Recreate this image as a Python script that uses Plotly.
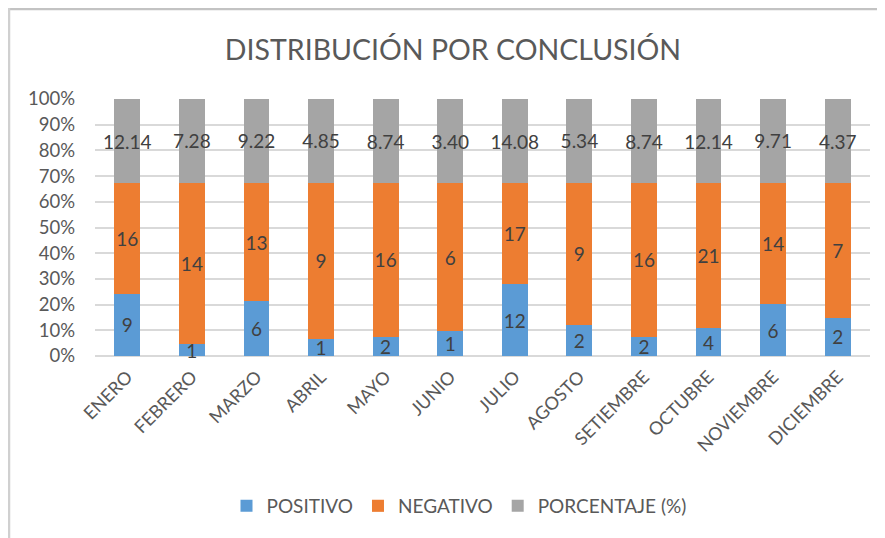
import plotly.graph_objects as go

meses = ["ENERO", "FEBRERO", "MARZO", "ABRIL", "MAYO", "JUNIO", "JULIO",
         "AGOSTO", "SETIEMBRE", "OCTUBRE", "NOVIEMBRE", "DICIEMBRE"]
positivo = [9, 1, 6, 1, 2, 1, 12, 2, 2, 4, 6, 2]
negativo = [16, 14, 13, 9, 16, 6, 17, 9, 16, 21, 14, 7]
porcentaje = [12.14, 7.28, 9.22, 4.85, 8.74, 3.40, 14.08, 5.34, 8.74, 12.14, 9.71, 4.37]

FONT = "Lato, 'Open Sans', sans-serif"
GRIS_TEXTO = "#595959"

# the page body adds an 8px margin, so the figure is drawn 8px smaller
OFF = 8
W, H = 885 - OFF, 538 - OFF
# plot area in page pixels: x 95..870, y 99..356
L, T = 95 - OFF, 99 - OFF
R, B = W - (870 - OFF), H - (356 - OFF)
pw, ph = W - L - R, H - T - B


def px_x(p):
    return (p - OFF - L) / pw


def px_y(p):
    return (H - B - (p - OFF)) / ph


fig = go.Figure()
series = [
    ("POSITIVO", positivo, "#5b9bd5", [str(v) for v in positivo]),
    ("NEGATIVO", negativo, "#ed7d31", [str(v) for v in negativo]),
    ("PORCENTAJE (%)", porcentaje, "#a5a5a5", [f"{v:.2f}" for v in porcentaje]),
]
for name, vals, color, txt in series:
    fig.add_trace(go.Bar(
        x=meses, y=vals, name=name, marker=dict(color=color, line=dict(width=0)),
        text=txt, textposition="inside", insidetextanchor="middle",
        textangle=0, constraintext="none", cliponaxis=False,
        textfont=dict(family=FONT, size=19, color="#404040"),
        hoverinfo="skip",
    ))

fig.update_layout(
    width=W, height=H,
    barmode="stack", barnorm="percent", bargap=0.6,
    margin=dict(l=L, r=R, t=T, b=B),
    paper_bgcolor="white", plot_bgcolor="white",
    font=dict(family=FONT, color=GRIS_TEXTO, size=18),
    title=dict(text="DISTRIBUCIÓN POR CONCLUSIÓN", x=(453 - OFF) / W, xanchor="center",
               y=1 - (50 - OFF) / H, yanchor="middle",
               font=dict(family=FONT, size=28.5, color=GRIS_TEXTO)),
    xaxis=dict(tickangle=-45, showgrid=False, showline=False, ticks="",
               automargin=False, ticklabelstandoff=6,
               tickfont=dict(size=18, color=GRIS_TEXTO)),
    yaxis=dict(range=[0, 100], dtick=10, ticksuffix="%", showline=False,
               gridcolor="#d9d9d9", gridwidth=1.5, zeroline=True,
               zerolinecolor="#d9d9d9", zerolinewidth=1.5, ticks="",
               automargin=False, ticklabelstandoff=19,
               tickfont=dict(size=18.5, color=GRIS_TEXTO)),
    legend=dict(orientation="h", x=px_x(459), xanchor="center", y=px_y(506),
                yanchor="middle", font=dict(size=19, color=GRIS_TEXTO),
                itemwidth=30, traceorder="normal"),
    showlegend=True,
)

# chart frame (top and left edge)
fig.add_shape(type="line", xref="paper", yref="paper",
              x0=px_x(8), x1=px_x(890), y0=px_y(9), y1=px_y(9),
              line=dict(color="#c3c3c3", width=2.5))
fig.add_shape(type="line", xref="paper", yref="paper",
              x0=px_x(9), x1=px_x(9), y0=px_y(8), y1=px_y(540),
              line=dict(color="#d0d0d0", width=2.5))

fig.write_html("out.html")
